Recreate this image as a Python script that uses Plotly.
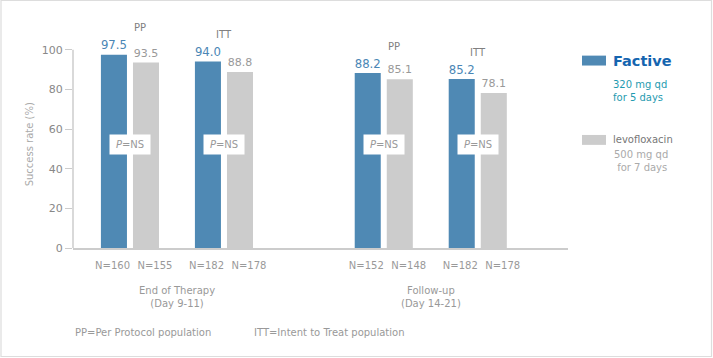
import plotly.graph_objects as go

# ---- data ----
subgroups = ["PP", "ITT", "PP", "ITT"]
subgroup_x = [0.0, 1.0, 2.7, 3.7]
factive_values = [97.5, 94.0, 88.2, 85.2]
levo_values = [93.5, 88.8, 85.1, 78.1]
factive_n = ["N=160", "N=182", "N=152", "N=182"]
levo_n = ["N=155", "N=178", "N=148", "N=178"]
timepoints = ["End of Therapy<br>(Day 9-11)", "Follow-up<br>(Day 14-21)"]
timepoint_x = [0.5, 3.2]
p_labels = ["<i>P</i>=NS"] * 4
y_ticks = [0, 20, 40, 60, 80, 100]

BLUE = "#4f89b4"
GREY = "#cccccc"
FONT = "DejaVu Sans"
BW = 0.277
GAP = 0.032

fig = go.Figure()
fig.add_trace(go.Bar(
    x=subgroup_x, y=factive_values, width=BW, offset=-(BW + GAP),
    marker=dict(color=BLUE, line=dict(width=0)),
    text=[f"{v:.1f}" for v in factive_values], textposition="outside",
    textfont=dict(family=FONT, size=14, color="#4a86b5"), cliponaxis=False,
    showlegend=False, hoverinfo="skip"))
fig.add_trace(go.Bar(
    x=subgroup_x, y=levo_values, width=BW, offset=GAP,
    marker=dict(color=GREY, line=dict(width=0)),
    text=[f"{v:.1f}" for v in levo_values], textposition="outside",
    textfont=dict(family=FONT, size=11, color="#999999"), cliponaxis=False,
    showlegend=False, hoverinfo="skip"))

tickvals, ticktext = [], []
for x, a, b in zip(subgroup_x, factive_n, levo_n):
    tickvals += [x - GAP - BW / 2 - 0.015, x + GAP + BW / 2 + 0.095]
    ticktext += [a, b]

annotations = []
# subgroup headers
for x, name, fv, lv in zip(subgroup_x, subgroups, factive_values, levo_values):
    annotations.append(dict(x=x, y=max(fv, lv), xref="x", yref="y", text=name,
                            showarrow=False, yshift=27,
                            xshift=10 if name == "PP" else 0,
                            font=dict(family=FONT, size=10, color="#808080")))
# P=NS boxes
for x, t in zip(subgroup_x, p_labels):
    annotations.append(dict(x=x, y=52, xref="x", yref="y", text=t, showarrow=False,
                            bgcolor="white", borderpad=4, width=32,
                            font=dict(family=FONT, size=10, color="#999999")))
# timepoint labels
for x, t in zip(timepoint_x, timepoints):
    annotations.append(dict(x=x, y=0, xref="x", yref="y", text=t, showarrow=False,
                            yanchor="top", yshift=-35,
                            font=dict(family=FONT, size=10, color="#999999")))
# y title
annotations.append(dict(x=0, y=52, xref="paper", yref="y", text="Success rate (%)",
                        textangle=-90, showarrow=False, xshift=-51,
                        font=dict(family=FONT, size=10, color="#aaaaaa")))
# footnotes
annotations.append(dict(x=0, y=0, xref="paper", yref="y", text="PP=Per Protocol population",
                        showarrow=False, xanchor="left", yanchor="middle", yshift=-84,
                        font=dict(family=FONT, size=10, color="#999999")))
annotations.append(dict(x=0, y=0, xref="paper", yref="y", text="ITT=Intent to Treat population",
                        showarrow=False, xanchor="left", yanchor="middle", yshift=-84, xshift=179,
                        font=dict(family=FONT, size=10, color="#999999")))

# legend (custom)
PW = 495.0  # plot width px
def px(xpix):
    return (xpix - 73) / PW
annotations += [
    dict(x=px(611), y=94.5, xref="paper", yref="y", text="<b>Factive</b>", showarrow=False,
         xanchor="left", font=dict(family=FONT, size=14.5, color="#1565b0")),
    dict(x=px(611), y=86, xref="paper", yref="y", text="320 mg qd<br>for 5 days", showarrow=False,
         xanchor="left", yanchor="top", align="left",
         font=dict(family=FONT, size=10, color="#1f9bb0")),
    dict(x=px(611), y=54.5, xref="paper", yref="y", text="levofloxacin", showarrow=False,
         xanchor="left", font=dict(family=FONT, size=10, color="#777777")),
    dict(x=px(612), y=51, xref="paper", yref="y", text="500 mg qd<br> for 7 days", showarrow=False,
         xanchor="left", yanchor="top", align="left",
         font=dict(family=FONT, size=10, color="#aaaaaa")),
]

shapes = [
    # y axis line 0..100
    dict(type="line", xref="paper", yref="y", x0=0, x1=0, y0=0, y1=100,
         line=dict(color="#cccccc", width=1.5)),
    # legend swatches
    dict(type="rect", xref="paper", yref="y", x0=px(582), x1=px(606), y0=92, y1=97,
         fillcolor=BLUE, line=dict(width=0)),
    dict(type="rect", xref="paper", yref="y", x0=px(582), x1=px(606), y0=52, y1=57,
         fillcolor=GREY, line=dict(width=0)),
    # outer frame
    dict(type="rect", xref="paper", yref="paper", x0=px(1), x1=px(711.5),
         y0=-(358 - 248 - 1.5) / 238.0, y1=(248 - 0.5) / 238.0,
         line=dict(color="#dddddd", width=1.2), fillcolor="rgba(0,0,0,0)"),
]

fig.update_layout(
    width=713, height=358, margin=dict(l=73, r=145, t=10, b=110, autoexpand=False),
    plot_bgcolor="white", paper_bgcolor="white", barmode="overlay",
    font=dict(family=FONT, color="#999999"),
    xaxis=dict(range=[-0.606, 4.66], tickvals=tickvals, ticktext=ticktext,
               showline=True, linecolor="#cccccc", linewidth=1.5, showgrid=False,
               zeroline=False, ticks="", ticklabelstandoff=7, tickangle=0,
               automargin=False,
               tickfont=dict(family=FONT, size=10, color="#999999")),
    yaxis=dict(range=[0, 120], tickvals=y_ticks, showgrid=False, zeroline=False,
               showline=False, ticks="outside", ticklen=7, tickcolor="#cccccc",
               tickwidth=1, automargin=False,
               tickfont=dict(family=FONT, size=11, color="#888888")),
    annotations=annotations, shapes=shapes,
)

fig.write_html("out.html", config={"displayModeBar": False},
               post_script="document.body.style.margin='0px';")
